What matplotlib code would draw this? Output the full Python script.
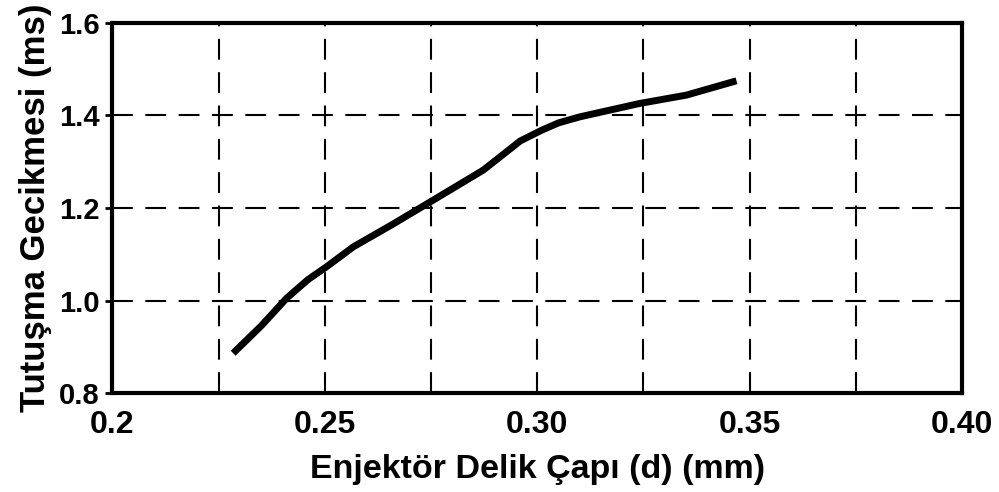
import matplotlib
matplotlib.use("Agg")
import matplotlib.pyplot as plt

# ignition delay vs injector hole diameter
d_mm = [0.2284, 0.2350, 0.2410, 0.2460, 0.2504, 0.2567, 0.2660, 0.2755,
        0.2873, 0.2960, 0.3010, 0.3050, 0.3100, 0.3241, 0.3351, 0.3469]
delay_ms = [0.886, 0.945, 1.005, 1.045, 1.073, 1.116, 1.165, 1.217,
            1.282, 1.345, 1.368, 1.384, 1.397, 1.426, 1.444, 1.475]

xticks = [0.2, 0.25, 0.30, 0.35, 0.40]
xtick_labels = ["0.2", "0.25", "0.30", "0.35", "0.40"]
xminor = [0.225, 0.275, 0.325, 0.375]
yticks = [0.8, 1.0, 1.2, 1.4, 1.6]
ytick_labels = ["0.8", "1.0", "1.2", "1.4", "1.6"]

plt.rcParams['font.family'] = ['Liberation Sans', 'DejaVu Sans']
plt.rcParams['font.weight'] = 'bold'

fig = plt.figure(figsize=(9.99, 4.92), dpi=100)
ax = fig.add_axes([0.1126, 0.2012, 0.8504, 0.7521])

ax.plot(d_mm, delay_ms, color='black', lw=5, solid_capstyle='butt',
        solid_joinstyle='round')

ax.set_xlim(0.2, 0.4)
ax.set_ylim(0.8, 1.6)
ax.set_xticks(xticks)
ax.set_xticklabels(xtick_labels)
ax.set_xticks(xminor, minor=True)
ax.set_yticks(yticks)
ax.set_yticklabels(ytick_labels)

ax.grid(True, which='both', color='black', lw=1.5, linestyle=(0, (10, 6)))
ax.set_axisbelow(True)

for s in ax.spines.values():
    s.set_linewidth(3)

ax.tick_params(axis='x', which='both', length=0, labelsize=23, pad=12)
ax.tick_params(axis='y', length=5, width=2, labelsize=21, pad=4)

ax.set_xlabel("Enjektör Delik Çapı (d) (mm)", fontsize=24.5, fontweight='bold', labelpad=10)
ax.set_ylabel("Tutuşma Gecikmesi (ms)", fontsize=25, fontweight='bold', labelpad=5)

fig.savefig("out.png", dpi=100)
